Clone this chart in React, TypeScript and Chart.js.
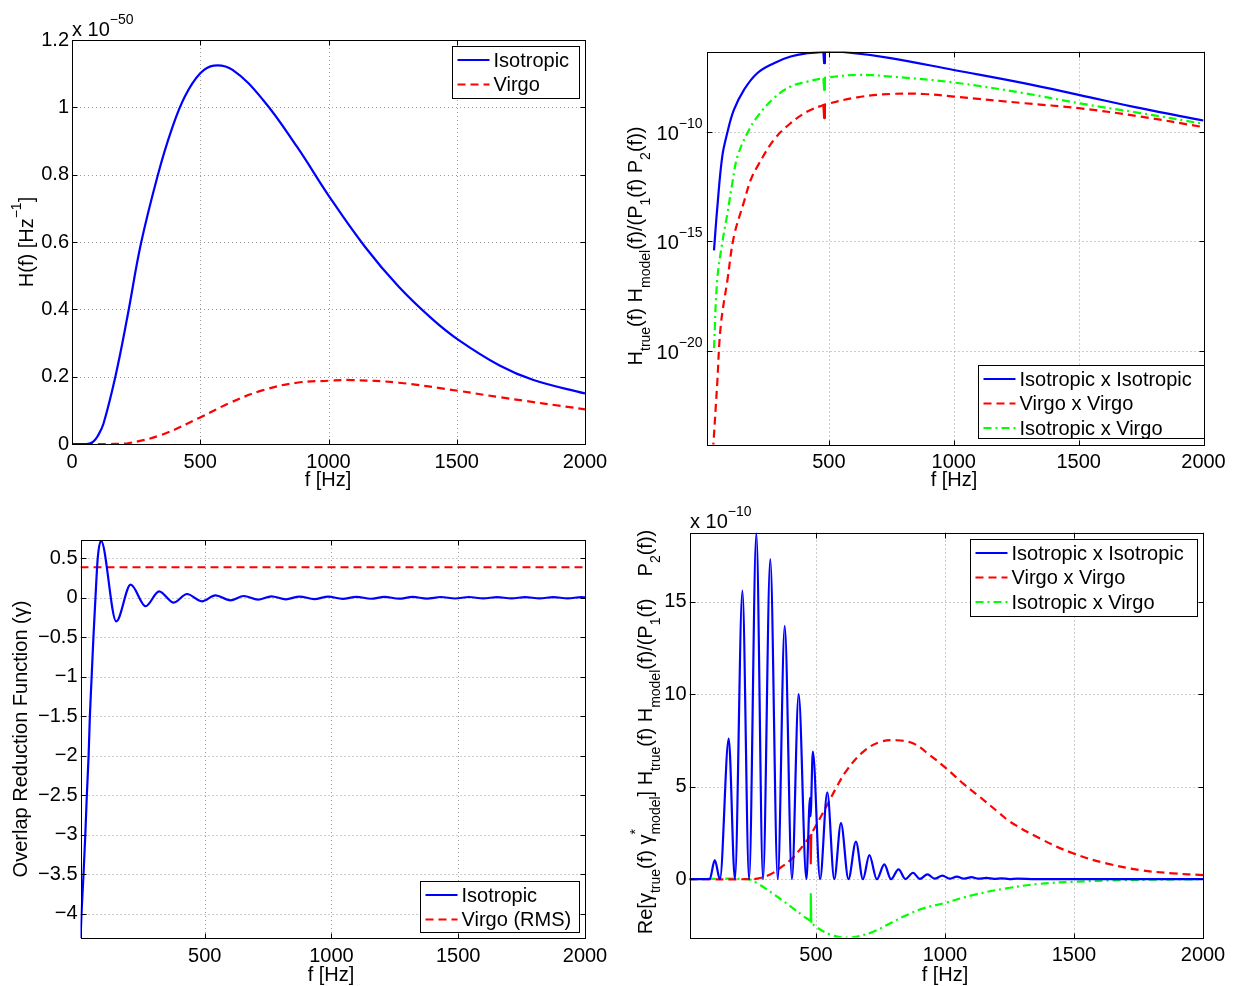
import React, { useEffect, useRef } from "react";
import { Chart, registerables } from "chart.js";

Chart.register(...registerables);

const FONT = '"Liberation Sans", Arial, Helvetica, sans-serif';
const BLUE = "#0000ff";
const RED = "#ff0000";
const GREEN = "#00ff00";
const DASH = [8, 5];
const DASHDOT = [8, 4, 2, 4];

// ---------- Panel 1: H(f)  (values in units of 1e-50 Hz^-1) ----------
const freqHIso = [0, 57, 83, 103, 123, 169, 216, 269, 335, 388, 440, 500, 553, 626, 745, 877, 1003, 1142, 1274, 1406, 1505, 1667, 1799, 2000];
const hIso = [0, 0, 0.007, 0.027, 0.061, 0.2, 0.378, 0.596, 0.8, 0.933, 1.032, 1.101, 1.124, 1.111, 1.022, 0.883, 0.735, 0.586, 0.467, 0.37, 0.31, 0.233, 0.19, 0.15];
const freqHVirgo = [0, 150, 216, 348, 500, 612, 745, 877, 1003, 1089, 1274, 1505, 1667, 2000];
const hVirgo = [0, 0, 0.002, 0.027, 0.079, 0.121, 0.16, 0.182, 0.188, 0.19, 0.182, 0.158, 0.139, 0.103];

// ---------- Panel 2: H_true H_model / (P1 P2), log scale ----------
const freqLogIsoIso = [40, 53, 73, 93, 120, 160, 213, 280, 347, 414, 478, 484, 547, 747, 1000, 1280, 1500, 1747, 2000];
const logIsoIso = [3.9e-16, 3.2e-14, 7.2e-12, 8.5e-11, 9.8e-10, 7.9e-9, 4.5e-8, 1.29e-7, 2.57e-7, 3.63e-7, 4.17e-7, 4.2e-7, 4.27e-7, 2.19e-7, 6.3e-8, 1.58e-8, 4.68e-9, 1.15e-9, 3.16e-10];
const freqLogVirVir = [36, 53, 67, 94, 120, 160, 187, 214, 280, 347, 414, 478, 484, 614, 747, 880, 1000, 1280, 1500, 1747, 2000];
const logVirVir = [3e-25, 3.6e-22, 1.4e-19, 1.8e-17, 1.7e-15, 6.3e-14, 6.3e-13, 2.6e-12, 4.2e-11, 2.4e-10, 8.1e-10, 1.62e-9, 1.7e-9, 3.6e-9, 5.1e-9, 5.1e-9, 3.9e-9, 1.95e-9, 1.15e-9, 4.8e-10, 1.58e-10];
const freqLogIsoVir = [40, 53, 74, 94, 114, 134, 174, 214, 280, 347, 414, 478, 484, 614, 747, 1000, 1280, 1500, 1747, 2000];
const logIsoVir = [1.4e-20, 1.8e-17, 1.0e-15, 1.95e-14, 5.0e-13, 7.2e-12, 8.5e-11, 4.8e-10, 3.3e-9, 1.12e-8, 1.86e-8, 2.7e-8, 2.8e-8, 3.8e-8, 3.16e-8, 1.7e-8, 5.6e-9, 1.95e-9, 6.9e-10, 2.24e-10];
// narrow glitches near 481 Hz
const freqLogSpike = [478, 481, 484];
const logIsoIsoSpike = [4.17e-7, 1.29e-7, 4.2e-7];
const logVirVirSpike = [1.62e-9, 4.1e-10, 1.7e-9];
const logIsoVirSpike = [2.7e-8, 7.9e-9, 2.8e-8];

// ---------- Panel 3: overlap reduction function ----------
const freqGammaIso = [10, 14, 22, 29, 35, 42, 47, 54, 61, 69, 78, 91, 151, 208, 267, 320, 378, 430, 489, 542, 601, 654, 710, 763, 820, 874, 932, 987, 1044, 1098, 1155, 1209, 1266, 1320, 1377, 1431, 1488, 1542, 1599, 1653, 1710, 1764, 1821, 1875, 1932, 1986, 2000];
const gammaIso = [-4.33, -4.0, -3.5, -3.0, -2.5, -2.0, -1.5, -1.0, -0.5, 0, 0.5, 0.72, -0.3, 0.164, -0.109, 0.08, -0.063, 0.046, -0.046, 0.029, -0.034, 0.021, -0.025, 0.017, -0.021, 0.014, -0.018, 0.013, -0.015, 0.011, -0.014, 0.01, -0.013, 0.009, -0.012, 0.008, -0.011, 0.008, -0.01, 0.007, -0.01, 0.007, -0.009, 0.006, -0.009, 0.006, 0.003];
const freqGammaVirgo = [10, 2000];
const gammaVirgoRms = [0.385, 0.385];

// ---------- Panel 4: Re[g g*] H H / (P1 P2)  (units of 1e-10) ----------
const freqReIsoIso = [10, 88, 108, 128, 162, 186, 215, 241, 269, 295, 323, 352, 379, 407, 433, 463, 477, 479, 488, 516, 544, 571, 597, 626, 655, 682, 707, 736, 765, 791, 820, 847, 876, 903, 932, 960, 990, 1018, 1046, 1075, 1103, 1130, 1160, 1190, 1220, 1250, 1280, 1350, 2000];
const reIsoIso = [0, 0, 1.03, 0, 7.6, 0, 15.6, 0, 18.7, 0, 17.3, 0, 13.7, 0, 10.0, 0, 4.4, 3.4, 6.9, 0, 4.7, 0, 3.03, 0, 2.03, 0, 1.3, 0, 0.8, 0, 0.53, 0.01, 0.35, 0.02, 0.26, 0.03, 0.19, 0.03, 0.14, 0.03, 0.11, 0.03, 0.07, 0.02, 0.05, 0.01, 0.03, 0.01, 0];
const freqReVirVir = [10, 230, 272, 322, 362, 406, 452, 478, 482, 504, 543, 581, 620, 684, 749, 813, 878, 942, 1006, 1071, 1135, 1213, 1252, 1367, 1496, 1625, 1754, 1882, 2000];
const reVirVir = [0, 0, 0.03, 0.25, 0.62, 1.1, 1.85, 2.35, 2.45, 3.0, 4.0, 5.0, 5.9, 6.9, 7.42, 7.51, 7.33, 6.7, 5.98, 5.17, 4.45, 3.55, 3.11, 2.21, 1.4, 0.86, 0.5, 0.32, 0.22];
const freqReIsoVir = [10, 235, 273, 335, 400, 452, 478, 482, 505, 557, 595, 630, 660, 724, 788, 853, 917, 1000, 1110, 1239, 1367, 1499, 1689, 2000];
const reIsoVir = [0, 0, -0.22, -0.8, -1.45, -2.0, -2.25, -2.35, -2.62, -3.0, -3.13, -3.16, -3.1, -2.83, -2.38, -1.93, -1.57, -1.28, -0.85, -0.49, -0.25, -0.14, -0.05, 0];
const freqReSpike = [478, 480, 482];
const reVirVirSpike = [2.35, 0.85, 2.45];
const reIsoVirSpike = [-2.25, -0.8, -2.35];

// ---------- ticks ----------
const ticksFreqFull = [0, 500, 1000, 1500, 2000];
const ticksFreq = [500, 1000, 1500, 2000];
const ticksH = [0, 0.2, 0.4, 0.6, 0.8, 1, 1.2];
const ticksLog = [1e-20, 1e-15, 1e-10];
const ticksGamma = [-4, -3.5, -3, -2.5, -2, -1.5, -1, -0.5, 0, 0.5];
const ticksRe = [0, 5, 10, 15];

// ---------- rich text ----------
type Seg = [string, number]; // 0 normal, 1 sub, 2 sup, 3 sup (no advance)
const MAIN = 20;
const SMALL = 14;
const SUB_DY = 8;
const SUP_DY = -12;
const fontOf = (s: number) => `${s}px ${FONT}`;

function richWidth(ctx: CanvasRenderingContext2D, segs: Seg[]) {
  let w = 0;
  for (const [t, k] of segs) {
    ctx.font = fontOf(k ? SMALL : MAIN);
    if (k !== 3) w += ctx.measureText(t).width;
  }
  return w;
}
function drawRich(ctx: CanvasRenderingContext2D, segs: Seg[], x: number, y: number, align: string) {
  const w = richWidth(ctx, segs);
  let cx = align === "center" ? x - w / 2 : align === "right" ? x - w : x;
  ctx.textAlign = "left";
  ctx.textBaseline = "alphabetic";
  ctx.fillStyle = "#000";
  for (const [t, k] of segs) {
    ctx.font = fontOf(k ? SMALL : MAIN);
    const dy = k === 1 ? SUB_DY : k >= 2 ? SUP_DY : 0;
    ctx.fillText(t, cx, y + dy);
    if (k !== 3) cx += ctx.measureText(t).width;
  }
}

interface Series {
  label: string; xs: number[]; ys: number[]; color: string; dash: number[];
  mode: "smooth" | "monotone" | "linear"; legend?: boolean;
}
interface Panel {
  canvas: number[]; // left, top, w, h (page)
  area: number[]; // l, t, r, b (page)
  xMin: number; xMax: number; xTicks: number[];
  yLog?: boolean; yMin: number; yMax: number; yTicks: number[];
  series: Series[];
  legend: number[]; // x, y, w, h (page)
  yTitle: Seg[]; yTitleAt: number[];
  xTitleAt: number[];
  expo?: { at: number[]; sup: string };
}

const fmt = (v: number) => (v < 0 ? "\u2212" + String(-v) : String(v));
const supFmt = (v: number) => {
  const e = Math.round(Math.log10(v));
  return e < 0 ? "\u2212" + String(-e) : String(e);
};

const sIsoIso = "Isotropic x Isotropic";
const sVirVir = "Virgo x Virgo";
const sIsoVir = "Isotropic x Virgo";

const PANELS: Panel[] = [
  {
    canvas: [0, 0, 616, 493],
    area: [72, 40, 585, 444],
    xMin: 0, xMax: 2000, xTicks: ticksFreqFull,
    yMin: 0, yMax: 1.2, yTicks: ticksH,
    series: [
      { label: "Isotropic", xs: freqHIso, ys: hIso, color: BLUE, dash: [], mode: "smooth" },
      { label: "Virgo", xs: freqHVirgo, ys: hVirgo, color: RED, dash: DASH, mode: "smooth" },
    ],
    legend: [452, 46, 127, 52],
    yTitle: [["H(f) [Hz", 0], ["\u22121", 2], ["]", 0]],
    yTitleAt: [33, 242],
    xTitleAt: [328, 486],
    expo: { at: [72, 36], sup: "\u221250" },
  },
  {
    canvas: [616, 0, 617, 493],
    area: [706.5, 51.5, 1203.5, 444.5],
    xMin: 10, xMax: 2000, xTicks: ticksFreq,
    yLog: true, yMin: 5.75e-25, yMax: 4.37e-7, yTicks: ticksLog,
    series: [
      { label: sIsoIso, xs: freqLogIsoIso, ys: logIsoIso, color: BLUE, dash: [], mode: "smooth" },
      { label: sVirVir, xs: freqLogVirVir, ys: logVirVir, color: RED, dash: DASH, mode: "smooth" },
      { label: sIsoVir, xs: freqLogIsoVir, ys: logIsoVir, color: GREEN, dash: DASHDOT, mode: "smooth" },
      { label: "", xs: freqLogSpike, ys: logIsoIsoSpike, color: BLUE, dash: [], mode: "linear", legend: false },
      { label: "", xs: freqLogSpike, ys: logVirVirSpike, color: RED, dash: [], mode: "linear", legend: false },
      { label: "", xs: freqLogSpike, ys: logIsoVirSpike, color: GREEN, dash: [], mode: "linear", legend: false },
    ],
    legend: [978, 365, 226, 73],
    yTitle: [["H", 0], ["true", 1], ["(f) H", 0], ["model", 1], ["(f)/(P", 0], ["1", 1], ["(f) P", 0], ["2", 1], ["(f))", 0]],
    yTitleAt: [642, 246],
    xTitleAt: [954, 486],
  },
  {
    canvas: [0, 493, 616, 493],
    area: [80.5, 540, 585, 938],
    xMin: 10, xMax: 2000, xTicks: ticksFreq,
    yMin: -4.31, yMax: 0.73, yTicks: ticksGamma,
    series: [
      { label: "Isotropic", xs: freqGammaIso, ys: gammaIso, color: BLUE, dash: [], mode: "monotone" },
      { label: "Virgo (RMS)", xs: freqGammaVirgo, ys: gammaVirgoRms, color: RED, dash: DASH, mode: "linear" },
    ],
    legend: [420, 881, 159, 51],
    yTitle: [["Overlap Reduction Function (\u03b3)", 0]],
    yTitleAt: [27, 739],
    xTitleAt: [331, 981],
  },
  {
    canvas: [616, 493, 617, 493],
    area: [689.5, 532.5, 1203, 937.5],
    xMin: 10, xMax: 2000, xTicks: ticksFreq,
    yMin: -3.15, yMax: 18.74, yTicks: ticksRe,
    series: [
      { label: sIsoIso, xs: freqReIsoIso, ys: reIsoIso, color: BLUE, dash: [], mode: "monotone" },
      { label: sVirVir, xs: freqReVirVir, ys: reVirVir, color: RED, dash: DASH, mode: "smooth" },
      { label: sIsoVir, xs: freqReIsoVir, ys: reIsoVir, color: GREEN, dash: DASHDOT, mode: "smooth" },
      { label: "", xs: freqReSpike, ys: reVirVirSpike, color: RED, dash: [], mode: "linear", legend: false },
      { label: "", xs: freqReSpike, ys: reIsoVirSpike, color: GREEN, dash: [], mode: "linear", legend: false },
    ],
    legend: [970, 539, 227, 77],
    yTitle: [
      ["Re[\u03b3", 0], ["true", 1], ["(f) \u03b3", 0], ["*", 3], ["model", 1], ["] H", 0], ["true", 1],
      ["(f) H", 0], ["model", 1], ["(f)/(P", 0], ["1", 1], ["(f)    P", 0], ["2", 1], ["(f))", 0],
    ],
    yTitleAt: [652, 732],
    xTitleAt: [945, 981],
    expo: { at: [690, 528], sup: "\u221210" },
  },
];

function makePlugin(p: Panel) {
  const ox = p.canvas[0];
  const oy = p.canvas[1];
  return {
    id: "panelDeco",
    beforeDatasetsDraw(chart: any) {
      const { ctx, chartArea: a, scales } = chart;
      ctx.save();
      ctx.strokeStyle = "#9a9a9a";
      ctx.lineWidth = 1;
      ctx.setLineDash([1, 3]);
      ctx.beginPath();
      for (const v of p.xTicks) {
        const x = Math.round(scales.x.getPixelForValue(v)) + 0.5;
        ctx.moveTo(x, a.top);
        ctx.lineTo(x, a.bottom);
      }
      for (const v of p.yTicks) {
        const y = Math.round(scales.y.getPixelForValue(v)) + 0.5;
        ctx.moveTo(a.left, y);
        ctx.lineTo(a.right, y);
      }
      ctx.stroke();
      ctx.restore();
    },
    afterDraw(chart: any) {
      const { ctx, chartArea: a, scales } = chart;
      ctx.save();
      const L = Math.round(a.left) + 0.5;
      const T = Math.round(a.top) + 0.5;
      const R = Math.round(a.right) + 0.5;
      const B = Math.round(a.bottom) + 0.5;
      ctx.setLineDash([]);
      ctx.strokeStyle = "#000";
      ctx.lineWidth = 1;
      ctx.strokeRect(L, T, R - L, B - T);
      const TK = 5;
      ctx.beginPath();
      for (const v of p.xTicks) {
        const x = Math.round(scales.x.getPixelForValue(v)) + 0.5;
        ctx.moveTo(x, B); ctx.lineTo(x, B - TK);
        ctx.moveTo(x, T); ctx.lineTo(x, T + TK);
      }
      for (const v of p.yTicks) {
        const y = Math.round(scales.y.getPixelForValue(v)) + 0.5;
        ctx.moveTo(L, y); ctx.lineTo(L + TK, y);
        ctx.moveTo(R, y); ctx.lineTo(R - TK, y);
      }
      ctx.stroke();

      if (p.yLog) {
        for (const v of p.yTicks) {
          const y = scales.y.getPixelForValue(v);
          drawRich(ctx, [["10", 0], [supFmt(v), 2]], a.left - 4, y + 8, "right");
        }
      }
      if (p.expo) {
        drawRich(ctx, [["x 10", 0], [p.expo.sup, 2]], p.expo.at[0] - ox, p.expo.at[1] - oy, "left");
      }
      drawRich(ctx, [["f [Hz]", 0]], p.xTitleAt[0] - ox, p.xTitleAt[1] - oy, "center");
      ctx.save();
      ctx.translate(p.yTitleAt[0] - ox, p.yTitleAt[1] - oy);
      ctx.rotate(-Math.PI / 2);
      drawRich(ctx, p.yTitle, 0, 0, "center");
      ctx.restore();

      const [lx0, ly0, lw, lh] = p.legend;
      const lx = Math.round(lx0 - ox) + 0.5;
      const ly = Math.round(ly0 - oy) + 0.5;
      ctx.fillStyle = "#fff";
      ctx.fillRect(lx, ly, lw, lh);
      ctx.strokeStyle = "#000";
      ctx.lineWidth = 1;
      ctx.setLineDash([]);
      ctx.strokeRect(lx, ly, lw, lh);
      p.series.filter((s) => s.legend !== false).forEach((s, i) => {
        const ry = ly + 13.5 + i * 24.5;
        ctx.save();
        ctx.strokeStyle = s.color;
        ctx.lineWidth = 2.2;
        ctx.setLineDash(s.dash);
        ctx.beginPath();
        ctx.moveTo(lx + 5, ry);
        ctx.lineTo(lx + 37, ry);
        ctx.stroke();
        ctx.restore();
        ctx.fillStyle = "#000";
        ctx.font = fontOf(MAIN);
        ctx.textAlign = "left";
        ctx.textBaseline = "middle";
        ctx.fillText(s.label, lx + 41, ry + 1);
      });
      ctx.restore();
    },
  };
}

function buildConfig(p: Panel): any {
  const [cl, ct, cw, ch] = p.canvas;
  const [al, at, ar, ab] = p.area;
  const tickFont = { family: FONT, size: MAIN };
  return {
    type: "line",
    data: {
      datasets: p.series.map((s) => ({
        label: s.label,
        data: s.xs.map((x, i) => ({ x, y: s.ys[i] })),
        borderColor: s.color,
        backgroundColor: s.color,
        borderWidth: 2.2,
        borderDash: s.dash,
        pointRadius: 0,
        fill: false,
        cubicInterpolationMode: s.mode === "monotone" ? "monotone" : "default",
        tension: s.mode === "smooth" ? 0.4 : 0,
        borderCapStyle: "butt",
        borderJoinStyle: "round",
      })),
    },
    options: {
      responsive: false,
      animation: false,
      events: [],
      layout: { padding: { left: 0, top: at - ct, right: cl + cw - ar, bottom: 0 } },
      plugins: { legend: { display: false }, tooltip: { enabled: false } },
      scales: {
        x: {
          type: "linear",
          min: p.xMin,
          max: p.xMax,
          afterBuildTicks: (s: any) => { s.ticks = p.xTicks.map((v) => ({ value: v })); },
          afterFit: (s: any) => { s.height = ct + ch - ab; },
          grid: { display: false, drawTicks: false },
          border: { display: false },
          ticks: { font: tickFont, color: "#000", padding: 6, maxRotation: 0, autoSkip: false, callback: (v: number) => fmt(v) },
        },
        y: {
          type: p.yLog ? "logarithmic" : "linear",
          min: p.yMin,
          max: p.yMax,
          afterBuildTicks: (s: any) => { s.ticks = p.yTicks.map((v) => ({ value: v })); },
          afterFit: (s: any) => { s.width = al - cl; },
          grid: { display: false, drawTicks: false },
          border: { display: false },
          ticks: { display: !p.yLog, font: tickFont, color: "#000", padding: 3, autoSkip: false, callback: (v: number) => fmt(v) },
        },
      },
    },
    plugins: [makePlugin(p)],
  };
}

export default function App() {
  const r0 = useRef<HTMLCanvasElement>(null);
  const r1 = useRef<HTMLCanvasElement>(null);
  const r2 = useRef<HTMLCanvasElement>(null);
  const r3 = useRef<HTMLCanvasElement>(null);
  const refs = [r0, r1, r2, r3];

  useEffect(() => {
    const charts = PANELS.map((p, i) => new Chart(refs[i].current as HTMLCanvasElement, buildConfig(p)));
    return () => charts.forEach((c) => c.destroy());
  }, []);

  return (
    <div style={{ position: "absolute", left: 0, top: 0, width: 1233, height: 986, background: "#fff" }}>
      {PANELS.map((p, i) => (
        <canvas
          key={i}
          ref={refs[i]}
          width={p.canvas[2]}
          height={p.canvas[3]}
          style={{ position: "absolute", left: p.canvas[0], top: p.canvas[1], width: p.canvas[2], height: p.canvas[3] }}
        />
      ))}
    </div>
  );
}
